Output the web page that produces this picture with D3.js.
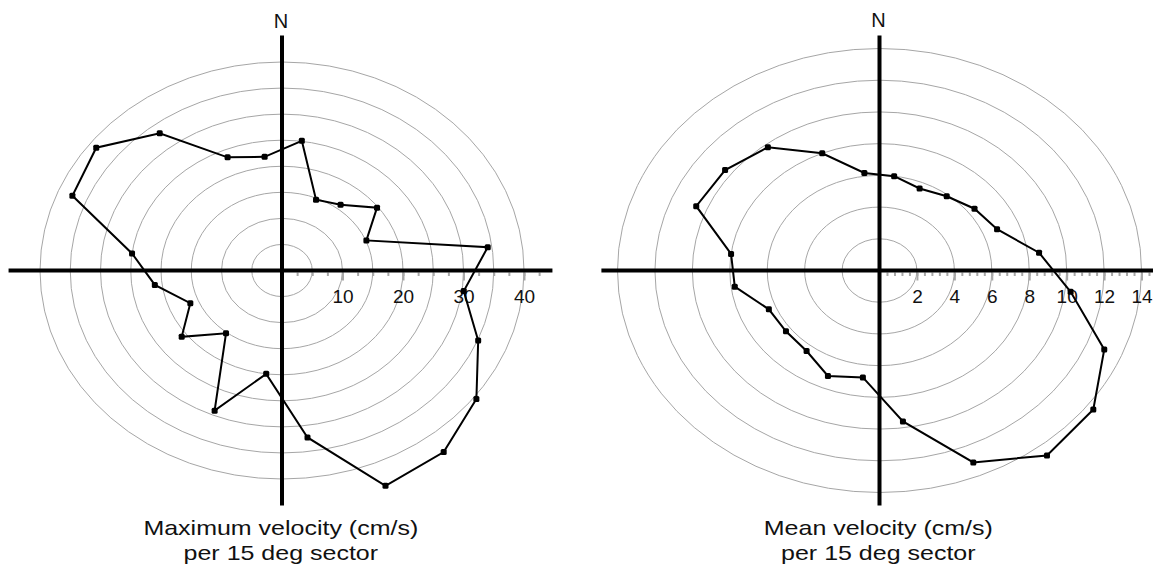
<!DOCTYPE html>
<html>
<head>
<meta charset="utf-8">
<script src="https://cdn.jsdelivr.net/npm/d3@7"></script>
<style>
  html, body { margin: 0; padding: 0; background: #fff; }
  svg { display: block; font-family: "Liberation Sans", Arial, sans-serif; }
</style>
</head>
<body>
<svg id="chart" width="1153" height="566"></svg>
<script>
// sector centres, degrees clockwise from N
const sectors = d3.range(7.5, 360, 15);

// maximum velocity per 15 deg sector (cm/s)
const maxVelocity = [25.1, 14.7, 15.9, 19.8, 15.1, 34.3, 30.3, 35.1, 40.5, 43.9, 44.7, 32.3,
                     20.0, 29.1, 15.2, 20.9, 16.4, 21.2, 25.0, 37.5, 38.7, 33.2, 23.5, 22.0];

// mean velocity per 15 deg sector (cm/s)
const meanVelocity = [6.0, 5.6, 5.9, 6.4, 6.8, 8.6, 10.3, 13.0, 14.4, 14.7, 13.1, 9.6,
                      6.8, 7.2, 6.4, 6.3, 6.4, 7.8, 8.0, 10.6, 10.4, 9.8, 8.0, 6.2];

const maxRings = [5, 10, 15, 20, 25, 30, 35, 40];
const maxLabels = [10, 20, 30, 40];
const meanRings = [2, 4, 6, 8, 10, 12, 14];
const meanLabels = [2, 4, 6, 8, 10, 12, 14];

const titles = [
    ["Maximum velocity (cm/s)", "per 15 deg sector"],
    ["Mean velocity (cm/s)", "per 15 deg sector"]
];

const svg = d3.select("#chart");

// 畫一個極座標圖 (橢圓環)
function drawPolar(opt) {
    const g = svg.append("g").attr("transform", `translate(${opt.cx},${opt.cy})`);
    const x = d3.scaleLinear().domain([0, opt.outer]).range([0, opt.rx]);
    const y = d3.scaleLinear().domain([0, opt.outer]).range([0, opt.ry]);
    const ext = d3.max(opt.values);

    // 同心環
    g.append("g").selectAll("ellipse")
        .data(opt.rings)
        .join("ellipse")
        .attr("rx", d => x(d))
        .attr("ry", d => y(d))
        .attr("fill", "none")
        .attr("stroke", "#a6a6a6")
        .attr("stroke-width", 1);

    // 刻度 (小)
    const minor = d3.range(opt.minorStep, ext + 0.001, opt.minorStep);
    g.append("g").attr("transform", "translate(0,2)")
        .call(d3.axisBottom(x).tickValues(minor).tickSize(3.5).tickFormat(""))
        .call(a => a.select(".domain").remove())
        .call(a => a.selectAll("line").attr("stroke", "#a8a8a8").attr("stroke-width", 2));

    // 刻度 (大) 與標籤
    g.append("g").attr("transform", "translate(0,2)")
        .call(d3.axisBottom(x).tickValues(opt.labels).tickSize(8).tickPadding(9).tickFormat(d3.format("d")))
        .call(a => a.select(".domain").remove())
        .call(a => a.selectAll("line").attr("stroke", "#a8a8a8").attr("stroke-width", 2))
        .call(a => a.selectAll("text")
            .attr("fill", "#111")
            .attr("font-size", 19)
            .attr("font-family", "'Liberation Sans', Arial, sans-serif"));

    // 主軸
    g.append("line")
        .attr("x1", -x(ext) - 3).attr("x2", x(ext) + opt.extraRight)
        .attr("y1", 0).attr("y2", 0)
        .attr("stroke", "#000").attr("stroke-width", 4);
    g.append("line")
        .attr("x1", 0).attr("x2", 0)
        .attr("y1", -y(ext) - 2).attr("y2", y(ext) + 2)
        .attr("stroke", "#000").attr("stroke-width", 4);

    g.append("text")
        .attr("x", -1).attr("y", -y(ext) - 10)
        .attr("text-anchor", "middle")
        .attr("font-size", 20)
        .attr("fill", "#111")
        .text("N");

    // 資料折線
    const pts = opt.values.map((v, i) => {
        const a = sectors[i] * Math.PI / 180;
        return [x(v) * Math.sin(a), -y(v) * Math.cos(a)];
    });
    g.append("path")
        .datum(pts)
        .attr("d", d3.line().curve(d3.curveLinearClosed))
        .attr("fill", "none")
        .attr("stroke", "#000")
        .attr("stroke-width", 2);
    g.append("g").selectAll("rect")
        .data(pts)
        .join("rect")
        .attr("x", d => d[0] - 3).attr("y", d => d[1] - 3)
        .attr("width", 6).attr("height", 6)
        .attr("rx", 1.5)
        .attr("fill", "#000");

    // 標題 (字比較寬)
    const t = g.append("text")
        .attr("transform", "scale(1.19,1)")
        .attr("text-anchor", "middle")
        .attr("font-size", 21)
        .attr("fill", "#111");
    t.append("tspan").attr("x", -1).attr("y", 265).text(opt.title[0]);
    t.append("tspan").attr("x", -1).attr("y", 290).text(opt.title[1]);
}

drawPolar({
    cx: 282, cy: 270.5, outer: 40, rx: 242, ry: 208.5,
    values: maxVelocity, rings: maxRings, labels: maxLabels,
    minorStep: 2.5, extraRight: 0, title: titles[0]
});

drawPolar({
    cx: 879.5, cy: 270.5, outer: 14, rx: 262, ry: 222,
    values: meanVelocity, rings: meanRings, labels: meanLabels,
    minorStep: 0.4, extraRight: 30, title: titles[1]
});
</script>
</body>
</html>
